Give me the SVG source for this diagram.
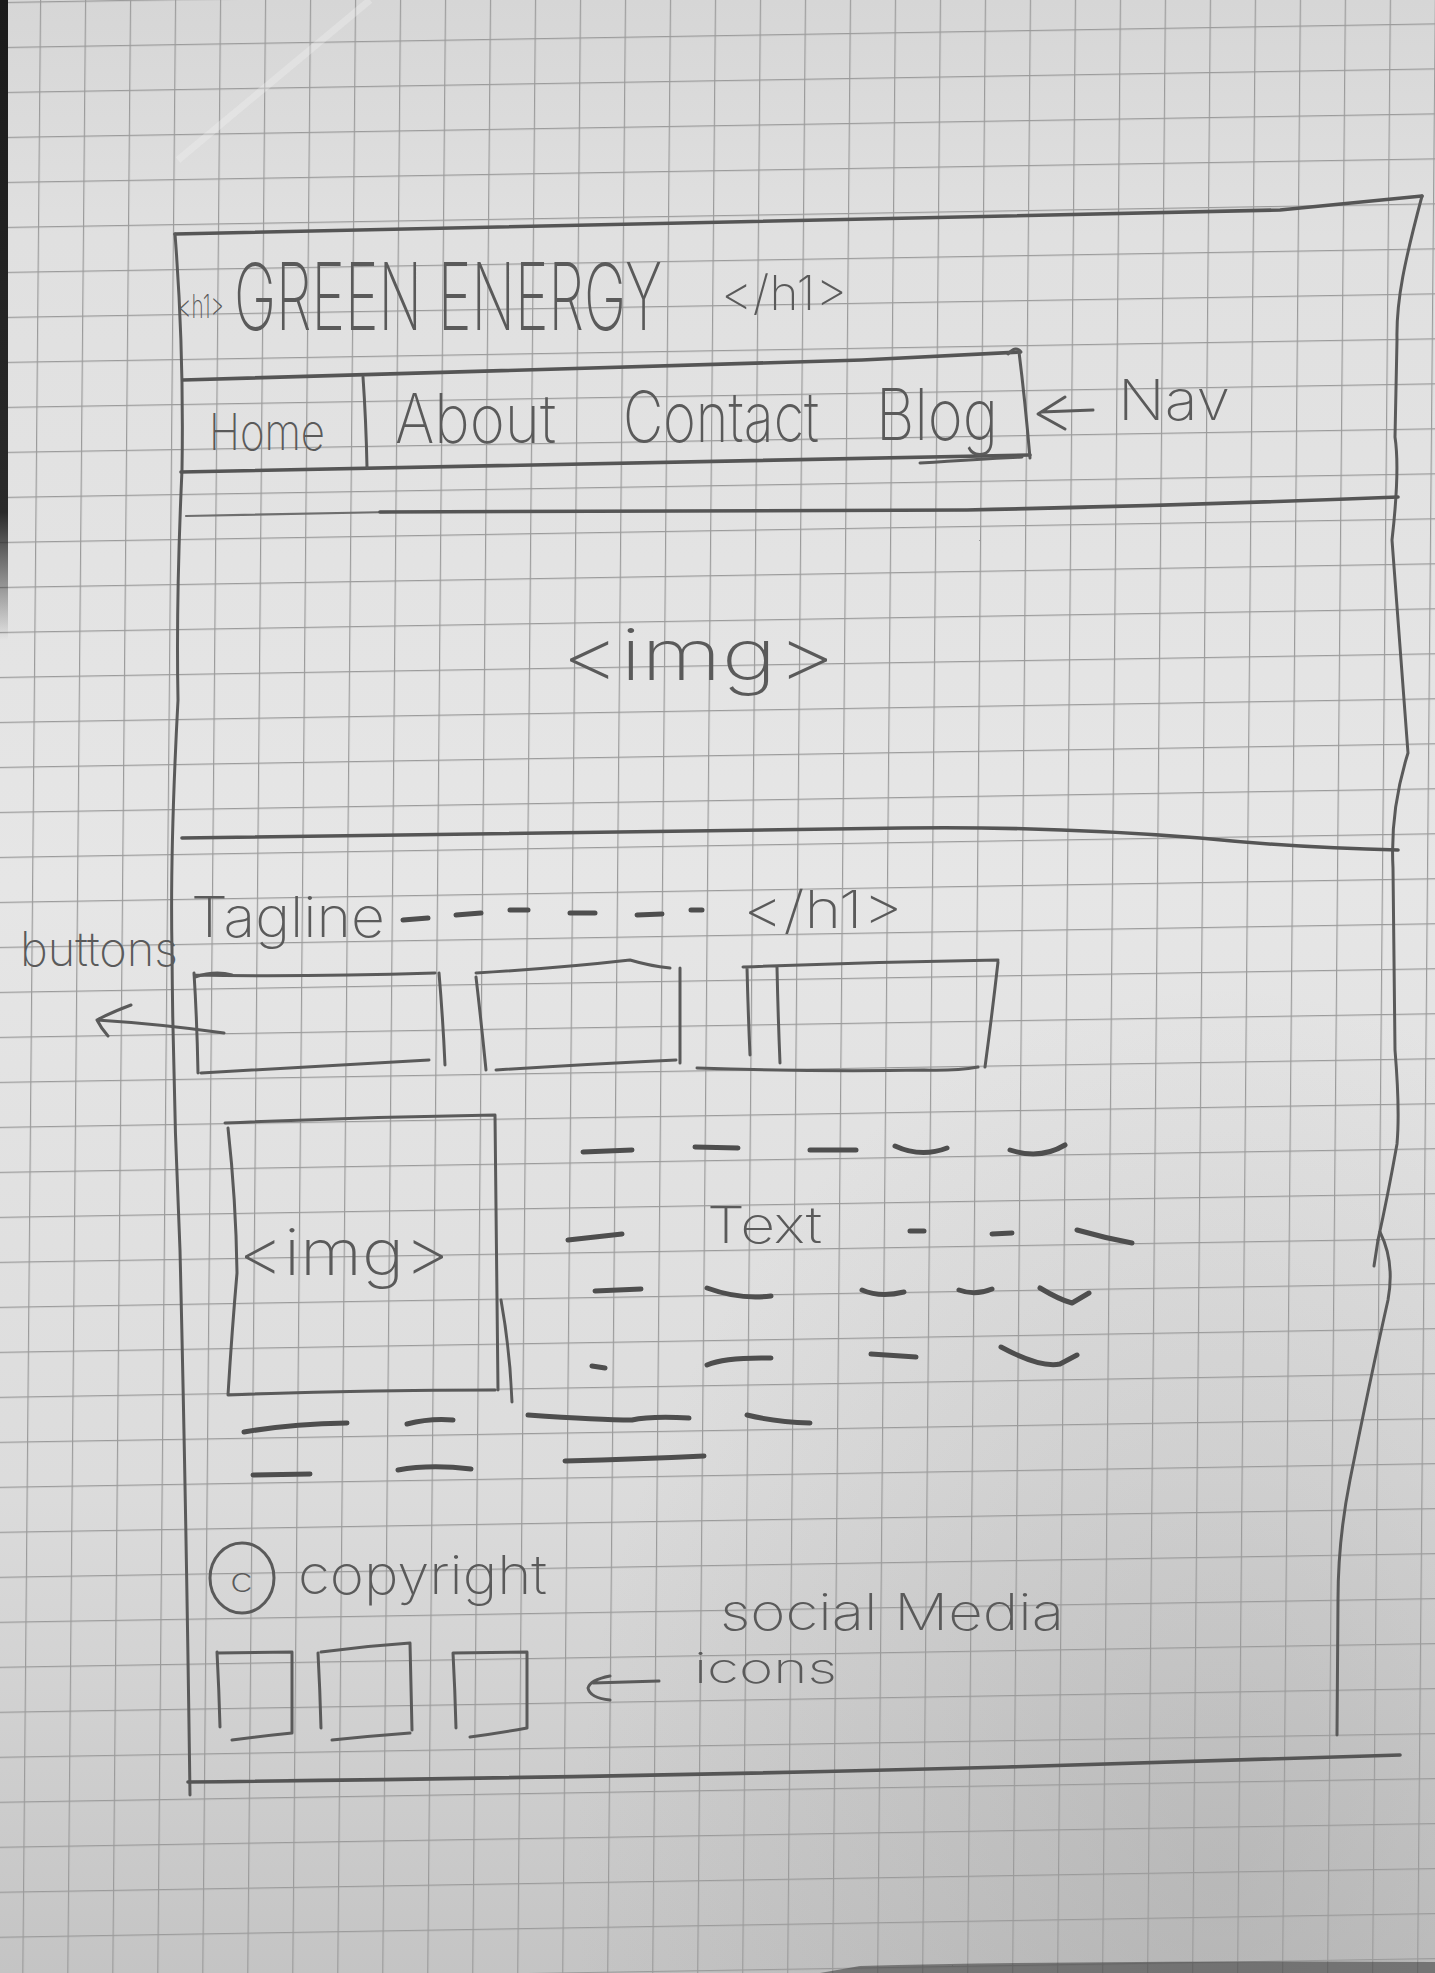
<svg xmlns="http://www.w3.org/2000/svg" width="1435" height="1973" viewBox="0 0 1435 1973">
  <defs>
    <linearGradient id="paperShade" x1="0" y1="0" x2="0" y2="1">
      <stop offset="0" stop-color="#d6d6d6"/>
      <stop offset="0.12" stop-color="#e0e0e0"/>
      <stop offset="0.45" stop-color="#e6e6e6"/>
      <stop offset="0.75" stop-color="#dcdcdc"/>
      <stop offset="1" stop-color="#c4c4c4"/>
    </linearGradient>
    <radialGradient id="cornerShade" cx="0.85" cy="0.95" r="0.45">
      <stop offset="0" stop-color="#9a9a9a" stop-opacity="0.35"/>
      <stop offset="1" stop-color="#9a9a9a" stop-opacity="0"/>
    </radialGradient>
    <linearGradient id="edgeShadow" x1="0" y1="0" x2="0" y2="1">
      <stop offset="0" stop-color="#1a1a1a"/>
      <stop offset="0.8" stop-color="#2a2a2a"/>
      <stop offset="1" stop-color="#2a2a2a" stop-opacity="0"/>
    </linearGradient>
    <!-- squared paper: ~45px cells, slightly skewed like a photographed sheet -->
    <pattern id="squares" patternUnits="userSpaceOnUse" x="40" y="47" width="45" height="45"
             patternTransform="matrix(1 -0.0165 -0.009 1 0 0)">
      <path d="M0 0.6 H45 M0.6 0 V45" fill="none" stroke="#9b9b9b" stroke-width="1.2"/>
    </pattern>
  </defs>

  <style>
    .pen   { fill: none; stroke: #5a5a5a; stroke-width: 3; stroke-linecap: round; stroke-linejoin: round; }
    .heavy { fill: none; stroke: #555555; stroke-width: 3.6; stroke-linecap: round; stroke-linejoin: round; }
    .faint { fill: none; stroke: #6e6e6e; stroke-width: 2.2; stroke-linecap: round; stroke-linejoin: round; }
    .dash  { fill: none; stroke: #4e4e4e; stroke-width: 5; stroke-linecap: round; stroke-linejoin: round; }
    .hand  { font-family: Inter, Lato, "Open Sans", "DejaVu Sans", sans-serif; font-weight: 250; fill: #5a5a5a; }
  </style>

  <!-- sheet of squared paper -->
  <g id="paper">
    <rect x="0" y="0" width="1435" height="1973" fill="url(#paperShade)"/>
    <rect x="0" y="0" width="1435" height="1973" fill="url(#cornerShade)"/>
    <rect x="-60" y="-60" width="1560" height="2100" fill="url(#squares)"/>
    <path d="M178,160 L370,0" stroke="#f4f4f4" stroke-opacity="0.3" stroke-width="7" fill="none"/>
    <rect x="0" y="0" width="8" height="640" fill="url(#edgeShadow)"/>
    <path d="M820,1973 L860,1966 Q1100,1960 1435,1962 L1435,1973 Z" fill="#3a3a3a" fill-opacity="0.55"/>
  </g>

  <!-- page outline -->
  <g id="page-frame">
    <path class="heavy" d="M175,234 Q580,224 1280,210 L1422,196"/>
    <path class="pen" d="M175,234 Q184,350 182,470 Q176,600 178,700 Q170,850 172,950 Q173,1100 180,1250 Q186,1500 190,1795"/>
    <path class="pen" d="M1422,196 C1405,260 1396,300 1397,340 L1395,437 Q1400,470 1392,540 Q1398,620 1408,753 Q1390,810 1393,868 L1395,1050 Q1400,1110 1397,1144 Q1388,1195 1378,1240"/>
    <path class="pen" d="M1378,1240 L1374,1266"/>
    <path class="pen" d="M1380,1232 Q1395,1262 1388,1300 Q1370,1380 1350,1480 Q1338,1540 1338,1600 L1337,1735"/>
    <path class="heavy" d="M188,1782 Q640,1777 1007,1767 L1400,1755"/>
  </g>

  <!-- header with site title -->
  <g id="header">
    <text class="hand" transform="translate(178,318) scale(1,1.6)" x="0" y="0" font-size="20" textLength="46" lengthAdjust="spacingAndGlyphs">&lt;h1&gt;</text>
    <text class="hand" transform="translate(234,330) scale(1,1.45)" x="0" y="0" font-size="64" textLength="428" lengthAdjust="spacingAndGlyphs">GREEN ENERGY</text>
    <text class="hand" x="721" y="310" font-size="48" textLength="126" lengthAdjust="spacingAndGlyphs">&lt;/h1&gt;</text>
  </g>

  <!-- navigation bar -->
  <g id="nav">
    <path class="heavy" d="M183,380 Q600,368 862,360 L1020,352"/>
    <path class="heavy" d="M181,472 Q720,463 1030,455"/>
    <path class="pen" d="M920,463 Q980,459 1022,457"/>
    <path class="pen" d="M1019,352 Q1025,400 1030,458"/>
    <path class="pen" d="M1008,354 Q1016,345 1021,352"/>
    <path class="pen" d="M363,377 Q366,420 367,467"/>
    <text class="hand" x="209" y="450" font-size="50" textLength="116" lengthAdjust="spacingAndGlyphs">Home</text>
    <text class="hand" x="395" y="443" font-size="68" textLength="161" lengthAdjust="spacingAndGlyphs">About</text>
    <text class="hand" x="623" y="442" font-size="70" textLength="196" lengthAdjust="spacingAndGlyphs">Contact</text>
    <text class="hand" x="876" y="440" font-size="72" textLength="122" lengthAdjust="spacingAndGlyphs">Blog</text>
    <text class="hand" x="1118" y="420" font-size="56" textLength="112" lengthAdjust="spacingAndGlyphs">Nav</text>
  </g>

  <!-- hero image area -->
  <g id="hero">
    <path class="faint" d="M186,516 Q290,514 392,512"/>
    <path class="heavy" d="M380,512 Q700,511 967,510 Q1200,505 1398,497"/>
    <path class="heavy" d="M182,838 Q540,832 903,828 Q1047,826 1200,838 Q1300,848 1398,850"/>
    <text class="hand" x="561" y="680" font-size="72" textLength="275" lengthAdjust="spacingAndGlyphs">&lt;img&gt;</text>
  </g>

  <!-- tagline heading -->
  <g id="tagline">
    <text class="hand" x="191" y="937" font-size="56" textLength="194" lengthAdjust="spacingAndGlyphs">Tagline</text>
    <path class="dash" d="M403,920 L428,918 M456,915 L481,913 M510,910 L528,910 M570,913 L595,913 M637,915 L662,914 M691,910 L702,910"/>
    <text class="hand" x="743" y="928" font-size="52" textLength="160" lengthAdjust="spacingAndGlyphs">&lt;/h1&gt;</text>
  </g>

  <!-- row of three buttons -->
  <g id="buttons">
    <text class="hand" x="20" y="966" font-size="48" textLength="158" lengthAdjust="spacingAndGlyphs">buttons</text>
    <g id="button-1">
      <path class="pen" d="M194,975 Q300,977 435,973 M194,973 Q197,1020 198,1073 M201,1073 Q320,1066 429,1060 M439,973 Q443,1020 445,1065"/>
      <path class="pen" d="M195,977 Q215,970 232,975"/>
    </g>
    <g id="button-2">
      <path class="pen" d="M476,973 Q560,968 630,960 Q650,966 670,968 M476,977 Q481,1020 486,1070 M496,1070 Q590,1064 676,1060 M680,968 L680,1063"/>
    </g>
    <g id="button-3">
      <path class="pen" d="M743,967 Q870,962 998,960 M747,967 Q748,1010 750,1055 M777,967 Q778,1015 780,1063 M998,962 Q992,1015 985,1067 M697,1068 Q820,1072 924,1070 Q955,1071 978,1067"/>
    </g>
  </g>

  <!-- content image -->
  <g id="content-image">
    <path class="pen" d="M225,1123 Q360,1117 495,1115 M228,1128 Q236,1200 237,1273 Q232,1330 228,1395 M495,1115 Q497,1250 498,1390 M228,1395 Q360,1390 495,1390"/>
    <path class="pen" d="M501,1300 Q510,1350 512,1402"/>
    <text class="hand" x="238" y="1275" font-size="64" textLength="212" lengthAdjust="spacingAndGlyphs">&lt;img&gt;</text>
  </g>

  <!-- body text placeholder -->
  <g id="text-block">
    <text class="hand" x="707" y="1243" font-size="50" textLength="115" lengthAdjust="spacingAndGlyphs">Text</text>
    <path class="dash" d="M583,1152 L632,1150 M695,1147 L738,1148 M810,1150 L856,1150 M895,1146 Q921,1158 947,1148 M1010,1150 Q1040,1160 1065,1145"/>
    <path class="dash" d="M568,1240 L622,1234 M910,1231 L924,1231 M992,1234 L1012,1233 M1077,1230 Q1105,1238 1132,1243"/>
    <path class="dash" d="M595,1291 L641,1289 M707,1288 Q740,1300 771,1296 M862,1290 Q880,1298 904,1292 M959,1290 Q975,1296 992,1289 M1040,1288 Q1060,1300 1072,1303 L1089,1293"/>
    <path class="dash" d="M592,1366 L605,1368 M707,1365 Q725,1357 771,1358 M871,1354 L916,1357 M1001,1347 Q1040,1368 1060,1364 L1077,1355"/>
    <path class="dash" d="M244,1432 Q290,1424 347,1423 M407,1424 Q430,1418 453,1420 M528,1415 Q600,1420 632,1420 Q650,1416 689,1418 M747,1415 Q775,1422 810,1423"/>
    <path class="dash" d="M253,1475 L310,1474 M398,1470 Q430,1464 471,1469 M565,1461 Q640,1459 704,1456"/>
  </g>

  <!-- footer: copyright and social icons -->
  <g id="footer">
    <ellipse class="pen" cx="242" cy="1578" rx="32" ry="35"/>
    <text class="hand" x="230" y="1592" font-size="34" textLength="23" lengthAdjust="spacingAndGlyphs">c</text>
    <text class="hand" x="298" y="1594" font-size="54" textLength="249" lengthAdjust="spacingAndGlyphs">copyright</text>
    <text class="hand" x="720" y="1630" font-size="51" textLength="344" lengthAdjust="spacingAndGlyphs">social Media</text>
    <text class="hand" x="694" y="1683" font-size="42" textLength="143" lengthAdjust="spacingAndGlyphs">icons</text>
    <g id="icon-1">
      <path class="pen" d="M217,1653 L292,1652 M217,1652 Q219,1690 220,1727 M232,1740 Q262,1736 292,1733 M292,1652 L292,1733"/>
    </g>
    <g id="icon-2">
      <path class="pen" d="M321,1652 Q365,1646 410,1643 M318,1653 Q320,1690 321,1728 M332,1740 Q370,1736 410,1733 M410,1643 Q411,1690 412,1730"/>
    </g>
    <g id="icon-3">
      <path class="pen" d="M453,1653 L527,1652 M453,1653 Q455,1690 456,1728 M527,1652 L527,1728 M470,1737 Q500,1733 527,1728"/>
    </g>
  </g>

  <!-- annotation arrows -->
  <g id="connectors">
    <path class="pen" d="M1065,397 L1038,414 L1065,429 M1041,412 L1093,410"/>
    <path class="pen" d="M224,1033 Q160,1024 97,1020 M131,1005 Q112,1012 97,1020 Q101,1028 108,1036"/>
    <path class="pen" d="M593,1683 L659,1681 M610,1676 Q590,1680 588,1688 Q590,1698 610,1700"/>
  </g>
</svg>
